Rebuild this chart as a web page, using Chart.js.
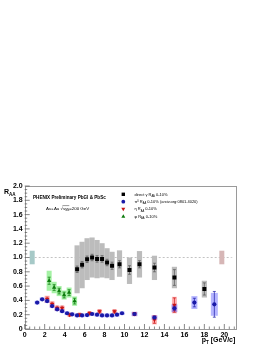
<!DOCTYPE html>
<html>
<head>
<meta charset="utf-8">
<script src="https://cdn.jsdelivr.net/npm/chart.js@4/dist/chart.umd.min.js"></script>
<style>
  html, body { margin: 0; padding: 0; background: #fff; }
</style>
</head>
<body>
<canvas id="chart" width="268" height="346"></canvas>
<script>
// direct photon R_AA (black squares, grey boxes)
const gammaPt = [5.25, 5.75, 6.25, 6.75, 7.25, 7.75, 8.25, 8.75, 9.5, 10.5, 11.5, 13, 15, 18];
const gammaRaa = [0.835, 0.9, 0.975, 1.0, 0.98, 0.98, 0.93, 0.885, 0.905, 0.825, 0.905, 0.86, 0.72, 0.56];
const gammaStat = [0.045, 0.045, 0.045, 0.045, 0.045, 0.045, 0.045, 0.05, 0.05, 0.06, 0.05, 0.06, 0.11, 0.085];
const gammaSysLo = [0.5, 0.57, 0.685, 0.72, 0.71, 0.72, 0.71, 0.685, 0.73, 0.63, 0.72, 0.685, 0.57, 0.44];
const gammaSysHi = [1.17, 1.22, 1.27, 1.28, 1.245, 1.2, 1.13, 1.08, 1.1, 1.0, 1.09, 1.025, 0.87, 0.675];

// pi0 R_AA (blue circles)
const pi0Pt = [1.25, 1.75, 2.25, 2.75, 3.25, 3.75, 4.25, 4.75, 5.25, 5.75, 6.25, 6.75, 7.25, 7.75, 8.25, 8.75, 9.25, 9.75, 11, 13, 15, 17, 19];
const pi0Raa = [0.37, 0.415, 0.39, 0.32, 0.275, 0.25, 0.22, 0.205, 0.19, 0.19, 0.195, 0.21, 0.2, 0.19, 0.19, 0.19, 0.2, 0.22, 0.21, 0.16, 0.29, 0.37, 0.345];
const pi0Stat = [0.005, 0.005, 0.005, 0.005, 0.005, 0.005, 0.005, 0.005, 0.005, 0.005, 0.005, 0.005, 0.005, 0.005, 0.005, 0.005, 0.005, 0.005, 0.02, 0.02, 0.03, 0.06, 0.18];
const pi0Sys = [0.025, 0.025, 0.025, 0.025, 0.025, 0.025, 0.025, 0.025, 0.025, 0.025, 0.025, 0.025, 0.025, 0.025, 0.025, 0.025, 0.025, 0.025, 0.03, 0.03, 0.055, 0.09, 0.16];
const pi0HalfW = [0.25, 0.25, 0.25, 0.25, 0.25, 0.25, 0.25, 0.25, 0.25, 0.25, 0.25, 0.25, 0.25, 0.25, 0.25, 0.25, 0.25, 0.25, 0.3, 0.3, 0.3, 0.3, 0.35];

// eta R_AA (red inverted triangles)
const etaPt = [2.25, 2.75, 3.25, 3.75, 4.5, 5.5, 6.5, 7.5, 9, 11, 13, 15];
const etaRaa = [0.415, 0.345, 0.29, 0.29, 0.2, 0.2, 0.22, 0.245, 0.245, 0.21, 0.13, 0.335];
const etaStat = [0.03, 0.03, 0.03, 0.03, 0.02, 0.02, 0.02, 0.02, 0.02, 0.02, 0.05, 0.1];
const etaSys = [0.05, 0.04, 0.035, 0.035, 0.025, 0.025, 0.025, 0.03, 0.03, 0.03, 0.065, 0.115];

// phi R_AA (green triangles)
const phiPt = [2.45, 2.95, 3.45, 3.95, 4.45, 5.0];
const phiRaa = [0.675, 0.58, 0.53, 0.475, 0.51, 0.39];
const phiStat = [0.05, 0.04, 0.04, 0.04, 0.04, 0.04];
const phiSys = [0.14, 0.08, 0.07, 0.063, 0.07, 0.065];

// global normalisation boxes at R_AA = 1
const normPt = [0.75, 19.75];
const normErr = [0.095, 0.095];

const xTicks = [0, 2, 4, 6, 8, 10, 12, 14, 16, 18, 20];

const FONT = 'Liberation Sans';

const pts = (xs, ys) => xs.map((x, i) => ({ x, y: ys[i] }));

function richText(ctx, parts, x, y, size, bold) {
  // parts: [text, 'sub' | 'sup' | '']
  let cx = x;
  parts.forEach(([t, mode]) => {
    const s = mode ? size * 0.65 : size;
    const dy = mode === 'sub' ? size * 0.3 : mode === 'sup' ? -size * 0.4 : 0;
    ctx.font = `${bold ? 'bold ' : ''}${s}px "${FONT}"`;
    ctx.fillText(t, cx, y + dy);
    cx += ctx.measureText(t).width;
  });
  return cx;
}

function richWidth(ctx, parts, size, bold) {
  let w = 0;
  parts.forEach(([t, mode]) => {
    const s = mode ? size * 0.65 : size;
    ctx.font = `${bold ? 'bold ' : ''}${s}px "${FONT}"`;
    w += ctx.measureText(t).width;
  });
  return w;
}

const decor = {
  id: 'decor',
  beforeDatasetsDraw(chart) {
    const { ctx, chartArea: a, scales: { x, y } } = chart;
    ctx.save();
    ctx.beginPath();
    ctx.rect(a.left, a.top, a.right - a.left, a.bottom - a.top);
    ctx.clip();

    // dashed line at 1
    ctx.strokeStyle = '#aaa';
    ctx.lineWidth = 0.7;
    ctx.setLineDash([2, 2]);
    ctx.beginPath();
    ctx.moveTo(x.getPixelForValue(1), y.getPixelForValue(1));
    ctx.lineTo(x.getPixelForValue(20.8), y.getPixelForValue(1));
    ctx.stroke();
    ctx.setLineDash([]);

    const box = (xc, lo, hi, hw, color) => {
      const x0 = x.getPixelForValue(xc - hw);
      const x1 = x.getPixelForValue(xc + hw);
      const y0 = y.getPixelForValue(hi);
      const y1 = y.getPixelForValue(lo);
      ctx.fillStyle = color;
      ctx.fillRect(x0, y0, x1 - x0, y1 - y0);
    };

    const normColors = ['#a6c9c7', '#d6b6b6'];
    normPt.forEach((p, i) => box(p, 1 - normErr[i], 1 + normErr[i], 0.25, normColors[i]));

    gammaPt.forEach((p, i) => box(p, gammaSysLo[i], gammaSysHi[i], 0.26, '#bcbcbc'));
    phiPt.forEach((p, i) => box(p, phiRaa[i] - phiSys[i], phiRaa[i] + phiSys[i], 0.25, 'rgba(90,230,90,0.55)'));
    etaPt.forEach((p, i) => box(p, etaRaa[i] - etaSys[i], etaRaa[i] + etaSys[i], 0.25, 'rgba(255,80,80,0.45)'));
    pi0Pt.forEach((p, i) => box(p, pi0Raa[i] - pi0Sys[i], pi0Raa[i] + pi0Sys[i], pi0HalfW[i], 'rgba(90,90,255,0.45)'));

    const errBar = (xc, v, e, color) => {
      const px = x.getPixelForValue(xc);
      const y0 = y.getPixelForValue(v - e);
      const y1 = y.getPixelForValue(v + e);
      ctx.strokeStyle = color;
      ctx.lineWidth = 0.7;
      ctx.beginPath();
      ctx.moveTo(px, y0); ctx.lineTo(px, y1);
      ctx.moveTo(px - 1.5, y0); ctx.lineTo(px + 1.5, y0);
      ctx.moveTo(px - 1.5, y1); ctx.lineTo(px + 1.5, y1);
      ctx.stroke();
    };
    gammaPt.forEach((p, i) => errBar(p, gammaRaa[i], gammaStat[i], '#555'));
    pi0Pt.forEach((p, i) => errBar(p, pi0Raa[i], pi0Stat[i], '#1a1aa8'));
    etaPt.forEach((p, i) => errBar(p, etaRaa[i], etaStat[i], '#c81414'));
    phiPt.forEach((p, i) => errBar(p, phiRaa[i], phiStat[i], '#0c7a0c'));
    ctx.restore();
  },
  afterDraw(chart) {
    const { ctx, chartArea: a, scales: { x, y } } = chart;
    ctx.save();

    // frame
    ctx.strokeStyle = '#9a9a9a';
    ctx.lineWidth = 1;
    ctx.strokeRect(Math.round(a.left) + 0.5, Math.round(a.top) + 0.5,
      Math.round(a.right - a.left), Math.round(a.bottom - a.top));

    // inward tick marks
    ctx.strokeStyle = '#555';
    ctx.lineWidth = 0.7;
    ctx.beginPath();
    for (let v = 0; v <= 21; v += 0.5) {
      const px = x.getPixelForValue(v);
      const len = v % 2 === 0 ? 5 : 2.5;
      ctx.moveTo(px, a.bottom); ctx.lineTo(px, a.bottom - len);
    }
    for (let k = 0; k <= 40; k++) {
      const py = y.getPixelForValue(k * 0.05);
      const len = k % 4 === 0 ? 5 : 2.5;
      ctx.moveTo(a.left, py); ctx.lineTo(a.left + len, py);
    }
    ctx.stroke();

    ctx.fillStyle = '#000';
    ctx.textBaseline = 'alphabetic';
    ctx.textAlign = 'left';

    // axis titles
    richText(ctx, [['R', ''], ['AA', 'sub']], 4, 194, 7, true);
    const xt = [['p', ''], ['T', 'sub'], [' [GeV/c]', '']];
    richText(ctx, xt, a.right - richWidth(ctx, xt, 7, true), 342, 7, true);

    // labels
    ctx.font = `bold 4.6px "${FONT}"`;
    ctx.fillText('PHENIX Preliminary PbGl & PbSc', 33, 198.5);
    const endAu = richText(ctx, [['Au+Au ', ''], ['\u221A', '']], 46, 209.5, 4.4, false);
    const endS = richText(ctx, [['s', ''], ['NN', 'sub']], endAu, 209.5, 4.4, false);
    ctx.strokeStyle = '#000';
    ctx.lineWidth = 0.4;
    ctx.beginPath();
    ctx.moveTo(endAu - 0.5, 205.6); ctx.lineTo(endS, 205.6);
    ctx.stroke();
    richText(ctx, [['=200 GeV', '']], endS, 209.5, 4.4, false);

    // legend
    const legend = [
      { style: 'rect', rot: 0, r: 2.4, color: '#000',
        text: [['direct \u03B3 R', ''], ['AA', 'sub'], [' 0-10%', '']] },
      { style: 'circle', rot: 0, r: 1.9, color: '#1a1aa8',
        text: [['\u03C0', ''], ['0', 'sup'], [' R', ''], ['AA', 'sub'], [' 0-10% (arxiv.org:0801.4020)', '']] },
      { style: 'triangle', rot: 180, r: 2.3, color: '#c81414',
        text: [['\u03B7 R', ''], ['AA', 'sub'], [' 0-10%', '']] },
      { style: 'triangle', rot: 0, r: 2.3, color: '#0c7a0c',
        text: [['\u03C6 R', ''], ['AA', 'sub'], [' 0-10%', '']] },
    ];
    const rows = [194.3, 201.7, 209, 216.6];
    legend.forEach((e, i) => {
      ctx.fillStyle = e.color;
      Chart.helpers.drawPoint(ctx, { pointStyle: e.style, rotation: e.rot, radius: e.r, borderWidth: 0 }, 123.3, rows[i]);
      ctx.fillStyle = '#000';
      richText(ctx, e.text, 134.5, rows[i] + 1.4, 4, false);
    });
    ctx.restore();
  },
};

const tickFont = { family: FONT, size: 7, weight: 'bold' };

new Chart(document.getElementById('chart'), {
  type: 'scatter',
  data: {
    datasets: [
      { data: pts(gammaPt, gammaRaa), pointStyle: 'rect', pointRadius: 2.8, backgroundColor: '#000', borderWidth: 0 },
      { data: pts(pi0Pt, pi0Raa), pointStyle: 'circle', pointRadius: 2.1, backgroundColor: '#1a1aa8', borderWidth: 0 },
      { data: pts(etaPt, etaRaa), pointStyle: 'triangle', rotation: 180, pointRadius: 2.5, backgroundColor: '#c81414', borderWidth: 0 },
      { data: pts(phiPt, phiRaa), pointStyle: 'triangle', pointRadius: 2.5, backgroundColor: '#0c7a0c', borderWidth: 0 },
    ],
  },
  options: {
    responsive: false,
    animation: false,
    devicePixelRatio: 1,
    layout: { padding: { top: 186, right: 32.7, bottom: 0, left: 0 } },
    plugins: { legend: { display: false }, tooltip: { enabled: false } },
    scales: {
      x: {
        type: 'linear', min: 0, max: 21.1,
        afterFit: (s) => { s.height = 17; },
        afterBuildTicks: (s) => { s.ticks = xTicks.map((v) => ({ value: v })); },
        grid: { display: false, drawTicks: false },
        border: { display: false },
        ticks: { font: tickFont, color: '#000', padding: 2, maxRotation: 0, autoSkip: false },
      },
      y: {
        min: 0, max: 2,
        afterFit: (s) => { s.width = 24.7; },
        grid: { display: false, drawTicks: false },
        border: { display: false },
        ticks: { stepSize: 0.2, font: tickFont, color: '#000', padding: 2, autoSkip: false },
      },
    },
  },
  plugins: [decor],
});
</script>
</body>
</html>
